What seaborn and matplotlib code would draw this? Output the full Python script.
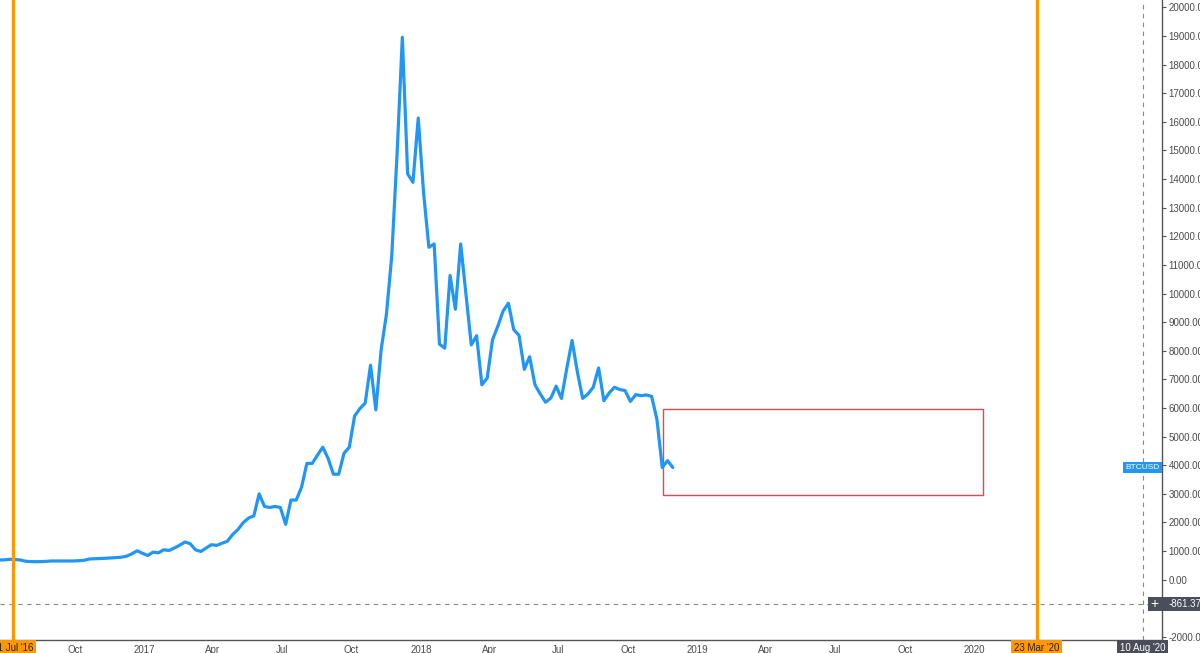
import pandas as pd
import seaborn as sns
import matplotlib.pyplot as plt
import matplotlib.dates as mdates
from matplotlib.patches import Rectangle
from matplotlib.ticker import FuncFormatter, MultipleLocator

# weekly BTCUSD closes
first_week = "2016-06-16"
btc_close = [
    680, 685, 690, 710, 700, 685, 640, 628, 625, 628,
    640, 650, 650, 650, 650, 650, 660, 675, 720, 728,
    735, 745, 757, 770, 781, 817, 900, 1006, 920, 842,
    959, 935, 1041, 1018, 1101, 1200, 1314, 1255, 1041, 983,
    1100, 1219, 1196, 1270, 1338, 1574, 1750, 1989, 2150, 2226,
    2995, 2557, 2521, 2557, 2521, 1929, 2781, 2781, 3232, 4060,
    4060, 4350, 4628, 4238, 3683, 3683, 4415, 4628, 5719, 5978,
    6170, 7495, 5932, 8028, 9271, 11300, 14847, 18957, 14184, 13888,
    16137, 13533, 11615, 11733, 8230, 8088, 10631, 9448, 11733, 9981,
    8205, 8525, 6809, 7044, 8383, 8856, 9388, 9661, 8738, 8535,
    7347, 7790, 6809, 6490, 6200, 6347, 6759, 6333, 7377, 8358,
    7257, 6333, 6490, 6724, 7399, 6252, 6525, 6724, 6642, 6607,
    6227, 6465, 6429, 6454, 6404, 5602, 3918, 4156, 3918,
]

# markers drawn on the chart
orange_lines = ["2016-07-11", "2020-03-23"]
orange_labels = ["11 Jul '16", "23 Mar '20"]
cursor_date = "2020-08-10"
cursor_label = "10 Aug '20"
cursor_price = -861.37
box_dates = ["2018-11-16", "2020-01-13"]
box_prices = [2940, 5960]
# tick labels hidden behind the date/price tags
hidden_x = [(2016, 7), (2020, 4), (2020, 7)]
hidden_y = [-1000]

df = pd.DataFrame({
    "date": pd.date_range(first_week, periods=len(btc_close), freq="7D"),
    "close": btc_close,
})

sns.set_style("white")
plt.rcParams['font.family'] = ['Liberation Sans', 'DejaVu Sans']

# screenshot is 1178x643, scaled to the 1200x653 output
W0, H0 = 1178, 643
AX_W, AX_H = 1141, 630
fig = plt.figure(figsize=(12, 6.53), dpi=100)
ax = fig.add_axes([0, (H0 - AX_H) / H0, AX_W / W0, AX_H / H0])

sns.lineplot(data=df, x="date", y="close", ax=ax, color="#2196F3", linewidth=2.3, zorder=4)

ax.set_xlim(pd.Timestamp("2016-06-24"), pd.Timestamp("2020-09-05"))
ax.set_ylim(-2105, 20260)

# rectangle drawing
x0 = mdates.date2num(pd.Timestamp(box_dates[0]))
x1 = mdates.date2num(pd.Timestamp(box_dates[1]))
ax.add_patch(Rectangle((x0, box_prices[0]), x1 - x0, box_prices[1] - box_prices[0],
                       fill=False, edgecolor="#E5454F", linewidth=1.0, zorder=3))

# orange vertical lines
for d in orange_lines:
    ax.axvline(pd.Timestamp(d), color="#FF9800", linewidth=2.4, zorder=5)

# crosshair
ax.axvline(pd.Timestamp(cursor_date), color="#888888", linewidth=0.8, linestyle=(0, (4, 4)), zorder=2)
ax.axhline(cursor_price, color="#888888", linewidth=0.8, linestyle=(0, (4, 4)), zorder=2)

# axes styling
for s in ["top", "left"]:
    ax.spines[s].set_visible(False)
for s in ["right", "bottom"]:
    ax.spines[s].set_color("#555555")
    ax.spines[s].set_linewidth(1.0)


def fmt_y(v, p):
    if round(v) in hidden_y:
        return ""
    return f"{v:.2f}"


def fmt_x(v, p):
    d = mdates.num2date(v)
    if (d.year, d.month) in hidden_x:
        return ""
    return str(d.year) if d.month == 1 else d.strftime("%b")


ax.yaxis.tick_right()
ax.yaxis.set_major_locator(MultipleLocator(1000))
ax.yaxis.set_major_formatter(FuncFormatter(fmt_y))
ax.xaxis.set_major_locator(mdates.MonthLocator(bymonth=[1, 4, 7, 10]))
ax.xaxis.set_major_formatter(FuncFormatter(fmt_x))
ax.tick_params(axis="both", which="major", length=3, width=0.8, color="#555555",
               labelcolor="#4a4a4a", labelsize=7, direction="out")
ax.tick_params(axis="x", pad=1.0)
ax.tick_params(axis="y", pad=1.5)
ax.set_xlabel("")
ax.set_ylabel("")
ax.grid(False)

xtr = ax.get_xaxis_transform()
ytr = ax.get_yaxis_transform()

# date tags on the time axis
for d, lab in zip(orange_lines, orange_labels):
    ax.text(pd.Timestamp(d), -3 / AX_H, lab, transform=xtr, ha="center", va="top",
            fontsize=7, color="#222222", clip_on=False, zorder=10,
            bbox=dict(boxstyle="square,pad=0.3", fc="#FF9800", ec="none"))
ax.text(pd.Timestamp(cursor_date), -3 / AX_H, cursor_label, transform=xtr, ha="center", va="top",
        fontsize=7, color="white", clip_on=False, zorder=10,
        bbox=dict(boxstyle="square,pad=0.3", fc="#4A4E59", ec="none"))

# price tag for the cursor
ax.add_patch(Rectangle((1127 / AX_W, cursor_price - 245), 0.06, 490, transform=ytr,
                       facecolor="#4A4E59", edgecolor="none", clip_on=False, zorder=10))
ax.text(1133.5 / AX_W, cursor_price, "+", transform=ytr, ha="center", va="center",
        fontsize=10, color="white", clip_on=False, zorder=11)
ax.text(1147 / AX_W, cursor_price, f"{cursor_price:.2f}", transform=ytr, ha="left", va="center",
        fontsize=7, color="white", clip_on=False, zorder=11)

# last price tag
ax.text(1121.5 / AX_W, btc_close[-1], "BTCUSD", transform=ytr, ha="center", va="center",
        fontsize=6, color="white", clip_on=False, zorder=11,
        bbox=dict(boxstyle="square,pad=0.25", fc="#2196F3", ec="none"))

fig.savefig("out.png", dpi=100)
